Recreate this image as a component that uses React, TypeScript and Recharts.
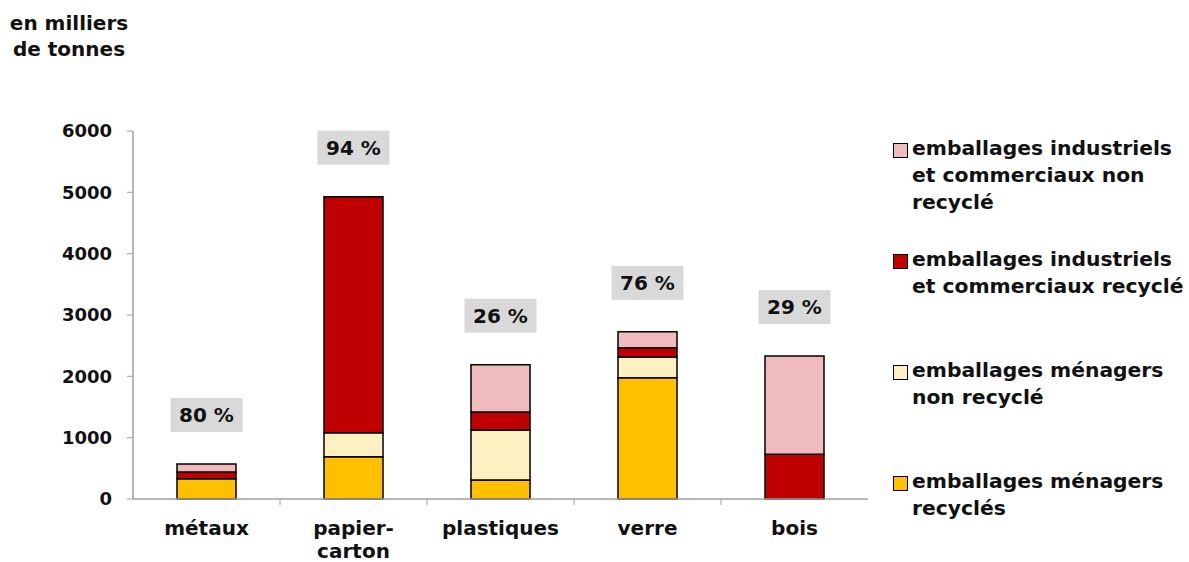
import { ComposedChart, Bar, Line, XAxis, YAxis, LabelList } from 'recharts';

const categories = ['métaux', 'papier-\ncarton', 'plastiques', 'verre', 'bois'];
const menagersRecycles = [330, 690, 310, 1975, 0];
const menagersNonRecycles = [0, 390, 815, 340, 0];
const industrielsRecycles = [110, 3850, 295, 150, 730];
const industrielsNonRecycles = [130, 0, 770, 260, 1600];
const recyclingRates = [80, 94, 26, 76, 29];
const yTicks = [0, 1000, 2000, 3000, 4000, 5000, 6000];

const SERIES = [
  { key: 'menRec', name: 'emballages ménagers\nrecyclés', color: '#FFC000' },
  { key: 'menNon', name: 'emballages ménagers\nnon recyclé', color: '#FFF0C2' },
  { key: 'indRec', name: 'emballages industriels\net commerciaux recyclé', color: '#C00000' },
  { key: 'indNon', name: 'emballages industriels\net commerciaux non\nrecyclé', color: '#EFBBBC' },
];

const data = categories.map((name, i) => ({
  name,
  menRec: menagersRecycles[i],
  menNon: menagersNonRecycles[i],
  indRec: industrielsRecycles[i],
  indNon: industrielsNonRecycles[i],
  total: menagersRecycles[i] + menagersNonRecycles[i] + industrielsRecycles[i] + industrielsNonRecycles[i],
  rate: recyclingRates[i],
}));

const FONT = "'DejaVu Sans', sans-serif";
const INK = '#111';
const AXIS = '#a0a0a0';

// category label + small separator tick at the right edge of each band
function CategoryTick({ x, y, payload, index, width, visibleTicksCount }: any) {
  const lines = String(payload.value).split('\n');
  const band = width / visibleTicksCount;
  return (
    <g>
      {index < visibleTicksCount - 1 && (
        <line x1={x + band / 2} x2={x + band / 2} y1={y} y2={y + 6} stroke={AXIS} />
      )}
      <text x={x} y={y} textAnchor="middle" fontFamily={FONT} fontWeight="bold" fontSize={20} fill={INK}>
        {lines.map((l, i) => (
          <tspan key={i} x={x} dy={i === 0 ? 36 : 23}>{l}</tspan>
        ))}
      </text>
    </g>
  );
}

function RateLabel({ x, y, value }: any) {
  const bottom = y - 32;
  return (
    <g>
      <rect x={x - 36} y={bottom - 34} width={72} height={34} fill="#d9d9d9" />
      <text x={x} y={bottom - 17} dy="0.36em" textAnchor="middle" fontFamily={FONT} fontWeight="bold" fontSize={20} fill={INK}>
        {`${value} %`}
      </text>
    </g>
  );
}

export default function App() {
  const legendItems = [...SERIES].reverse();
  return (
    <div style={{ position: 'absolute', left: 0, top: 0, width: 1189, height: 562, background: '#fff', fontFamily: FONT }}>
      <div style={{ position: 'absolute', left: 0, top: 10, width: 138, textAlign: 'center', fontWeight: 'bold', fontSize: 20, lineHeight: '26px', color: INK }}>
        en milliers<br />de tonnes
      </div>

      <ComposedChart width={1189} height={562} data={data} margin={{ top: 131, right: 321, bottom: 13, left: 73 }} barSize={59}>
        <XAxis dataKey="name" axisLine={{ stroke: AXIS, strokeWidth: 1.5 }} tickLine={false} tickSize={0} tickMargin={0} tick={<CategoryTick />} height={50} interval={0} />
        <YAxis
          domain={[0, 6000]}
          ticks={yTicks}
          width={60}
          axisLine={{ stroke: AXIS, strokeWidth: 1.5 }}
          tickLine={{ stroke: AXIS }}
          tickSize={6}
          tickMargin={15}
          tick={{ fontFamily: FONT, fontWeight: 'bold', fontSize: 18, fill: INK }}
        />
        {SERIES.map((s) => (
          <Bar key={s.key} dataKey={s.key} stackId="a" fill={s.color} stroke="#000" strokeWidth={1.5} isAnimationActive={false} />
        ))}
        <Line dataKey="total" stroke="none" dot={false} activeDot={false} legendType="none" isAnimationActive={false}>
          <LabelList dataKey="rate" content={<RateLabel />} />
        </Line>
      </ComposedChart>

      <div style={{ position: 'absolute', left: 893, top: 135, width: 294 }}>
        {legendItems.map((s) => (
          <div key={s.key} style={{ display: 'flex', alignItems: 'flex-start', height: 111 }}>
            <div style={{ width: 15, height: 15, boxSizing: 'border-box', border: '1.5px solid #000', background: s.color, marginTop: 8, marginRight: 4, flexShrink: 0 }} />
            <div style={{ fontWeight: 'bold', fontSize: 20.3, lineHeight: '27px', color: INK, whiteSpace: 'pre-line' }}>{s.name}</div>
          </div>
        ))}
      </div>
    </div>
  );
}
